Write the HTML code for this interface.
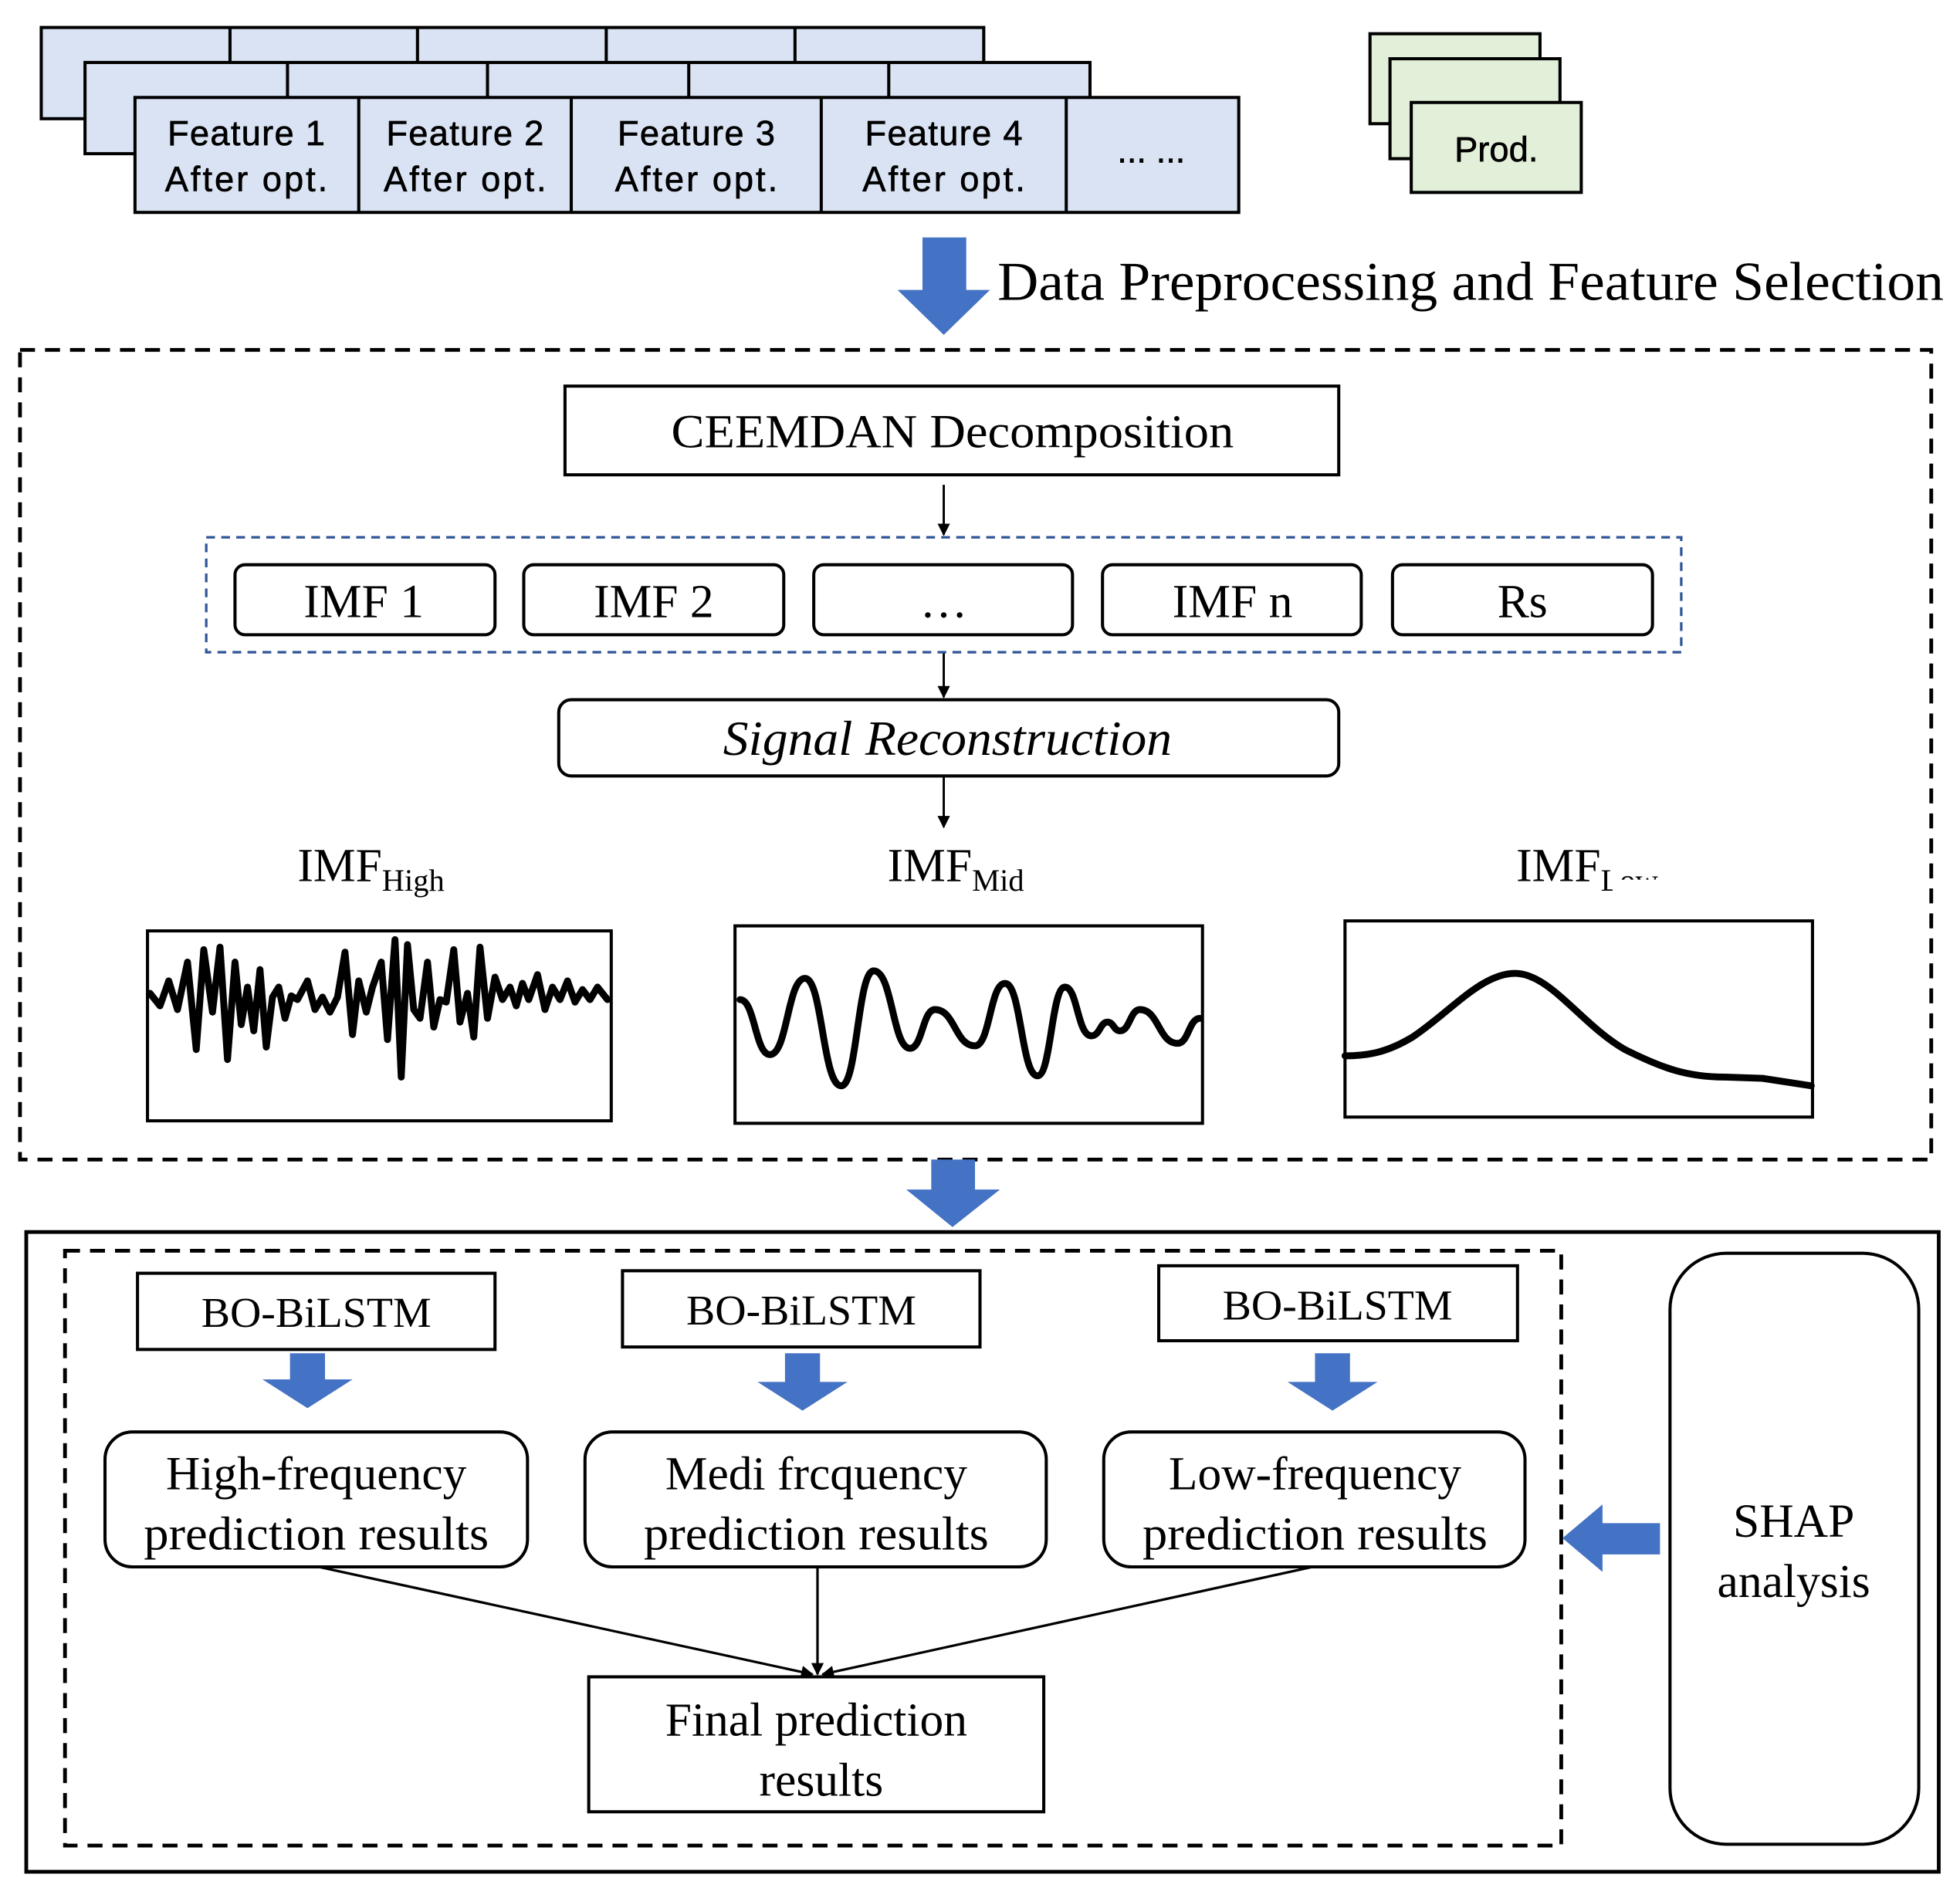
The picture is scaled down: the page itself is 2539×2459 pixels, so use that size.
<!DOCTYPE html>
<html><head><meta charset="utf-8"><style>html,body{margin:0;padding:0;background:#fff}svg{display:block}</style></head><body>
<svg width="2539" height="2459" viewBox="0 0 1568 1519" preserveAspectRatio="none" xmlns="http://www.w3.org/2000/svg">
<defs><marker id="ah" markerWidth="10" markerHeight="10" refX="9" refY="5" orient="auto" markerUnits="userSpaceOnUse"><path d="M0,0 L10,5 L0,10 z" fill="#000"/></marker></defs>
<g stroke="#000" stroke-width="2.5" fill="#dae3f3">
<rect x="33" y="22" width="754" height="73"/>
<line x1="184" y1="22" x2="184" y2="50"/><line x1="334" y1="22" x2="334" y2="50"/><line x1="485" y1="22" x2="485" y2="50"/><line x1="636" y1="22" x2="636" y2="50"/>
<rect x="68" y="50" width="804" height="73"/>
<line x1="230" y1="50" x2="230" y2="78"/><line x1="390" y1="50" x2="390" y2="78"/><line x1="551" y1="50" x2="551" y2="78"/><line x1="711" y1="50" x2="711" y2="78"/>
<rect x="108" y="78" width="883" height="92"/>
<line x1="287" y1="78" x2="287" y2="170"/><line x1="457" y1="78" x2="457" y2="170"/><line x1="657" y1="78" x2="657" y2="170"/><line x1="853" y1="78" x2="853" y2="170"/>
</g>
<g font-family="Liberation Sans, sans-serif" font-size="28" text-anchor="middle" fill="#000" stroke="#000" stroke-width="0.4">
<text x="197" y="116" textLength="126">Feature 1</text><text x="197" y="153" textLength="130">After opt.</text>
<text x="372" y="116" textLength="126">Feature 2</text><text x="372" y="153" textLength="130">After opt.</text>
<text x="557" y="116" textLength="126">Feature 3</text><text x="557" y="153" textLength="130">After opt.</text>
<text x="755" y="116" textLength="126">Feature 4</text><text x="755" y="153" textLength="130">After opt.</text>
<text x="921" y="130">... ...</text>
</g>
<g stroke="#000" stroke-width="2.5" fill="#e2f0d9">
<rect x="1096" y="27" width="136" height="72"/><rect x="1112" y="47" width="136" height="80"/><rect x="1129" y="82" width="136" height="72"/>
</g>
<text x="1197" y="129" font-family="Liberation Sans, sans-serif" font-size="28" text-anchor="middle" stroke="#000" stroke-width="0.4">Prod.</text>
<path d="M738,190 H773 V232 H792 L755,268 L718,232 H738 Z" fill="#4472c4"/>
<text x="798" y="240" font-family="Liberation Serif, serif" font-size="44" textLength="757" lengthAdjust="spacingAndGlyphs">Data Preprocessing and Feature Selection</text>
<rect x="16" y="280" width="1529" height="648" fill="none" stroke="#000" stroke-width="3" stroke-dasharray="12,8"/>
<rect x="452" y="309" width="619" height="71" fill="none" stroke="#000" stroke-width="2.5"/>
<g font-family="Liberation Serif, serif" font-size="38" text-anchor="middle" fill="#000">
<text x="762" y="358" textLength="450" lengthAdjust="spacingAndGlyphs">CEEMDAN Decomposition</text>
</g>
<g stroke="#000" stroke-width="1.8" marker-end="url(#ah)">
<line x1="755" y1="388" x2="755" y2="428"/><line x1="755" y1="522" x2="755" y2="558"/><line x1="755" y1="621" x2="755" y2="662"/>
</g>
<rect x="165" y="430" width="1180" height="92" fill="none" stroke="#2f5597" stroke-width="2" stroke-dasharray="7,5"/>
<g fill="none" stroke="#000" stroke-width="2.5">
<rect x="188" y="452" width="208" height="56" rx="8"/><rect x="419" y="452" width="208" height="56" rx="8"/><rect x="651" y="452" width="207" height="56" rx="8"/><rect x="882" y="452" width="207" height="56" rx="8"/><rect x="1114" y="452" width="208" height="56" rx="8"/>
<rect x="447" y="560" width="624" height="61" rx="10"/>
<rect x="118" y="745" width="371" height="152"/><rect x="588" y="741" width="374" height="158"/><rect x="1076" y="737" width="374" height="157"/>
</g>
<g font-family="Liberation Serif, serif" font-size="38" text-anchor="middle" fill="#000">
<text x="291" y="494">IMF 1</text><text x="523" y="494">IMF 2</text><text x="755" y="494">…</text><text x="986" y="494">IMF n</text><text x="1218" y="494">Rs</text>
<text x="758" y="604" font-style="italic" font-size="39" textLength="359" lengthAdjust="spacingAndGlyphs">Signal Reconstruction</text>
</g>
<g font-family="Liberation Serif, serif" font-size="38" fill="#000">
<text x="238" y="705">IMF<tspan font-size="25" dy="8">High</tspan></text>
<text x="710" y="705">IMF<tspan font-size="25" dy="8">Mid</tspan></text>
<text x="1213" y="705">IMF<tspan font-size="25" dy="8">Low</tspan></text>
</g>
<rect x="1290" y="704" width="60" height="20" fill="#fff"/>
<g fill="none" stroke="#000" stroke-width="5.5" stroke-linejoin="round" stroke-linecap="round">
<polyline points="120,795 128,805 135,785 142,808 150,770 157,840 163,760 170,810 176,758 182,848 188,770 193,820 198,790 203,825 208,776 213,838 218,798 223,790 228,815 233,797 238,800 246,785 252,808 258,798 264,810 270,798 276,762 282,828 287,785 293,810 298,790 305,770 310,832 316,752 321,862 326,756 331,808 336,815 342,770 347,822 352,800 357,802 363,760 368,818 374,795 379,830 384,758 390,815 396,782 402,800 408,790 413,805 418,787 423,800 430,780 436,808 442,790 448,800 454,785 460,802 466,792 472,800 478,790 486,800"/>
<path d="M592,800 C604,800 604,844 616,844 C630,844 630,783 644,783 C658,783 658,869 673,869 C686,869 686,777 699,777 C714,777 714,839 728,839 C738,839 738,808 748,808 C764,808 764,837 780,837 C792,837 792,787 804,787 C817,787 817,861 830,861 C841,861 841,790 852,790 C862,790 862,829 873,829 C880,829 880,818 886,818 C891,818 891,825 896,825 C904,825 904,808 912,808 C927,808 927,835 942,835 C951,835 951,815 960,815"/>
<path d="M1076,845 C1095,845 1110,842 1130,830 C1160,810 1185,779 1212,779 C1240,779 1265,820 1300,840 C1330,855 1350,862 1380,862 L1410,863 L1449,869"/>
</g>
<path d="M745,928 H780 V952 H800 L762,982 L725,952 H745 Z" fill="#4472c4"/>
<rect x="21" y="986" width="1530" height="512" fill="none" stroke="#000" stroke-width="3"/>
<rect x="52" y="1001" width="1197" height="476" fill="none" stroke="#000" stroke-width="3" stroke-dasharray="12,8"/>
<g fill="none" stroke="#000" stroke-width="2.5">
<rect x="110" y="1019" width="286" height="61"/><rect x="498" y="1017" width="286" height="61"/><rect x="927" y="1013" width="287" height="60"/>
<rect x="84" y="1146" width="338" height="108" rx="22"/><rect x="468" y="1146" width="369" height="108" rx="22"/><rect x="883" y="1146" width="337" height="108" rx="22"/>
<rect x="471" y="1342" width="364" height="108"/>
<rect x="1336" y="1003" width="199" height="473" rx="45"/>
</g>
<g fill="#4472c4">
<path d="M232,1083 H260 V1104 H282 L246,1127 L210,1104 H232 Z"/>
<path d="M628,1083 H656 V1106 H678 L642,1129 L606,1106 H628 Z"/>
<path d="M1052,1083 H1080 V1106 H1102 L1066,1129 L1030,1106 H1052 Z"/>
<path d="M1328,1219 V1244 H1282 V1258 L1250,1231 L1282,1204 V1219 Z"/>
</g>
<g stroke="#000" stroke-width="2" marker-end="url(#ah)">
<line x1="255" y1="1254" x2="650" y2="1340"/><line x1="654" y1="1254" x2="654" y2="1340"/><line x1="1050" y1="1254" x2="658" y2="1340"/>
</g>
<g font-family="Liberation Serif, serif" font-size="34" text-anchor="middle" fill="#000">
<text x="253" y="1062" textLength="184" lengthAdjust="spacingAndGlyphs">BO-BiLSTM</text><text x="641" y="1060" textLength="184" lengthAdjust="spacingAndGlyphs">BO-BiLSTM</text><text x="1070" y="1056" textLength="184" lengthAdjust="spacingAndGlyphs">BO-BiLSTM</text>
</g>
<g font-family="Liberation Serif, serif" font-size="38" text-anchor="middle" fill="#000">
<text x="253" y="1192">High-frequency</text><text x="253" y="1240" textLength="276" lengthAdjust="spacingAndGlyphs">prediction  results</text>
<text x="653" y="1192">Medi  frcquency</text><text x="653" y="1240" textLength="276" lengthAdjust="spacingAndGlyphs">prediction  results</text>
<text x="1052" y="1192">Low-frequency</text><text x="1052" y="1240" textLength="276" lengthAdjust="spacingAndGlyphs">prediction  results</text>
<text x="653" y="1389">Final prediction</text><text x="657" y="1437">results</text>
<text x="1435" y="1230">SHAP</text><text x="1435" y="1278">analysis</text>
</g>
</svg>
</body></html>
